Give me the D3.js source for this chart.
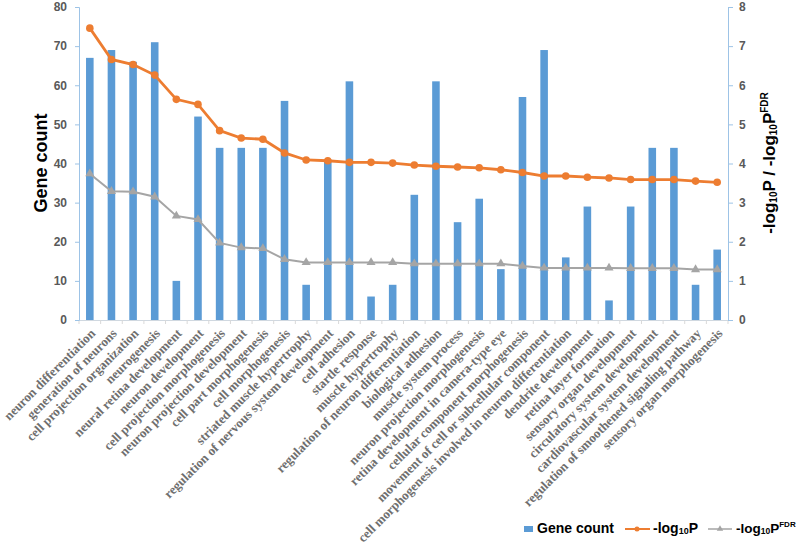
<!DOCTYPE html>
<html>
<head>
<meta charset="utf-8">
<script src="https://cdn.jsdelivr.net/npm/d3@7"></script>
<style>
  body { margin: 0; background: #fff; }
  svg { display: block; }
</style>
</head>
<body>
<svg id="chart" width="800" height="545"></svg>
<script>
const categories = [
  "neuron differentiation", "generation of neurons", "cell projection organization",
  "neurogenesis", "neural retina development", "neuron development",
  "cell projection morphogenesis", "neuron projection development", "cell part morphogenesis",
  "cell morphogenesis", "striated muscle hypertrophy", "regulation of nervous system development",
  "cell adhesion", "startle response", "muscle hypertrophy",
  "regulation of neuron differentiation", "biological adhesion", "muscle system process",
  "neuron projection morphogenesis", "retina development in camera-type eye",
  "cellular component morphogenesis", "movement of cell or subcellular component",
  "cell morphogenesis involved in neuron differentiation", "dendrite development",
  "retina layer formation", "sensory organ development", "circulatory system development",
  "cardiovascular system development", "regulation of smoothened signaling pathway",
  "sensory organ morphogenesis"
];
const geneCount = [67, 69, 66, 71, 10, 52, 44, 44, 44, 56, 9, 41, 61, 6, 9,
                   32, 61, 25, 31, 13, 57, 69, 16, 29, 5, 29, 44, 44, 9, 18];
const negLogP = [7.46, 6.66, 6.53, 6.26, 5.64, 5.51, 4.84, 4.65, 4.62, 4.27, 4.09, 4.07, 4.03, 4.03, 4.01,
                 3.96, 3.93, 3.91, 3.89, 3.84, 3.77, 3.68, 3.68, 3.65, 3.63, 3.59, 3.59, 3.59, 3.55, 3.52];
const negLogFDR = [3.74, 3.29, 3.28, 3.15, 2.66, 2.57, 1.97, 1.85, 1.83, 1.55, 1.47, 1.47, 1.47, 1.47, 1.47,
                   1.44, 1.44, 1.44, 1.44, 1.44, 1.38, 1.33, 1.33, 1.33, 1.33, 1.32, 1.32, 1.32, 1.29, 1.29];
const leftTicks = [0, 10, 20, 30, 40, 50, 60, 70, 80];
const rightTicks = [0, 1, 2, 3, 4, 5, 6, 7, 8];

const BLUE = "#5B9BD5", ORANGE = "#ED7D31", GRAY = "#A5A5A5";
const AXIS = "#9DC3E6", TICKTXT = "#595959";

const svg = d3.select("#chart");
const L = 79, R = 728, T = 7, B = 320;

const x = d3.scaleBand().domain(categories).range([L, R]).paddingInner(0.65).paddingOuter(0.325);
const xc = d => x(d) + x.bandwidth() / 2;
const yL = d3.scaleLinear().domain([0, 80]).range([B, T]);
const yR = d3.scaleLinear().domain([0, 8]).range([B, T]);

// bars
svg.append("g").selectAll("rect").data(categories).join("rect")
  .attr("x", d => x(d)).attr("width", x.bandwidth())
  .attr("y", (d, i) => yL(geneCount[i]))
  .attr("height", (d, i) => B - yL(geneCount[i]))
  .attr("fill", BLUE);

// x axis
const xAxis = svg.append("g").attr("transform", `translate(0,${B})`)
  .call(d3.axisBottom(x).tickSize(0).tickFormat(""));
xAxis.select(".domain").attr("stroke", "#D0D8E0").attr("stroke-width", 1);
const step = x.step();
svg.append("g").selectAll("line").data(d3.range(categories.length + 1)).join("line")
  .attr("x1", i => L + i * step).attr("x2", i => L + i * step)
  .attr("y1", B).attr("y2", B + 4)
  .attr("stroke", "#D9D9D9");

// x labels
svg.append("g").selectAll("text").data(categories).join("text")
  .attr("transform", d => `translate(${xc(d) + 3},${B + 11}) rotate(-45)`)
  .attr("text-anchor", "end").attr("dy", "0.35em")
  .attr("font-family", "'Liberation Serif', 'Times New Roman', serif")
  .attr("font-weight", "bold").attr("font-size", 13)
  .attr("fill", "#6e6e6e")
  .text(d => d);

// left axis
const la = svg.append("g").attr("transform", `translate(${L},0)`)
  .call(d3.axisLeft(yL).tickValues(leftTicks).tickSize(4).tickPadding(8));
la.select(".domain").attr("stroke", AXIS);
la.selectAll(".tick line").attr("stroke", AXIS);
la.selectAll(".tick text").attr("fill", TICKTXT).attr("font-family", "'Liberation Sans', Arial, sans-serif")
  .attr("font-weight", "bold").attr("font-size", 12);

// right axis
const ra = svg.append("g").attr("transform", `translate(${R},0)`)
  .call(d3.axisRight(yR).tickValues(rightTicks).tickSize(5).tickPadding(6));
ra.select(".domain").attr("stroke", AXIS);
ra.selectAll(".tick line").attr("stroke", AXIS);
ra.selectAll(".tick text").attr("fill", TICKTXT).attr("font-family", "'Liberation Sans', Arial, sans-serif")
  .attr("font-weight", "bold").attr("font-size", 12);

// lines
const line = arr => d3.line().x((d, i) => xc(categories[i])).y(d => yR(d))(arr);
svg.append("path").attr("d", line(negLogFDR)).attr("fill", "none")
  .attr("stroke", GRAY).attr("stroke-width", 2);
svg.append("g").selectAll("path").data(negLogFDR).join("path")
  .attr("d", d3.symbol(d3.symbolTriangle, 36)())
  .attr("transform", (d, i) => `translate(${xc(categories[i])},${yR(d)})`)
  .attr("fill", GRAY);

svg.append("path").attr("d", line(negLogP)).attr("fill", "none")
  .attr("stroke", ORANGE).attr("stroke-width", 2.8);
svg.append("g").selectAll("circle").data(negLogP).join("circle")
  .attr("cx", (d, i) => xc(categories[i])).attr("cy", d => yR(d))
  .attr("r", 3.8).attr("fill", ORANGE);

// axis titles
svg.append("text")
  .attr("transform", "translate(47,163) rotate(-90)")
  .attr("text-anchor", "middle")
  .attr("font-family", "'Liberation Sans', Arial, sans-serif")
  .attr("font-weight", "bold").attr("font-size", 18).attr("fill", "#000")
  .text("Gene count");

const rt = svg.append("text")
  .attr("transform", "translate(775,163) rotate(-90)")
  .attr("text-anchor", "middle")
  .attr("font-family", "'Liberation Sans', Arial, sans-serif")
  .attr("font-weight", "bold").attr("font-size", 17).attr("fill", "#000");
rt.append("tspan").text("-log");
rt.append("tspan").attr("font-size", 10).attr("dy", 2).text("10");
rt.append("tspan").attr("dy", -2).text("P  /  -log");
rt.append("tspan").attr("font-size", 10).attr("dy", 2).text("10");
rt.append("tspan").attr("dy", -2).text("P");
rt.append("tspan").attr("font-size", 10).attr("dy", -7).text("FDR");

// legend
const lg = svg.append("g").attr("font-family", "'Liberation Sans', Arial, sans-serif")
  .attr("font-weight", "bold").attr("font-size", 14).attr("fill", "#000");
lg.append("rect").attr("x", 524).attr("y", 526).attr("width", 9).attr("height", 6).attr("fill", BLUE);
lg.append("text").attr("x", 537).attr("y", 533).text("Gene count");
lg.append("line").attr("x1", 625).attr("x2", 650).attr("y1", 529).attr("y2", 529)
  .attr("stroke", ORANGE).attr("stroke-width", 2);
lg.append("circle").attr("cx", 637).attr("cy", 529).attr("r", 2.5).attr("fill", ORANGE);
const t1 = lg.append("text").attr("x", 653).attr("y", 533);
t1.append("tspan").text("-log");
t1.append("tspan").attr("font-size", 9).attr("dy", 1).text("10");
t1.append("tspan").attr("dy", -1).text("P");
lg.append("line").attr("x1", 708).attr("x2", 732).attr("y1", 529).attr("y2", 529)
  .attr("stroke", GRAY).attr("stroke-width", 1.5);
lg.append("path").attr("d", d3.symbol(d3.symbolTriangle, 18)())
  .attr("transform", "translate(720,529)").attr("fill", GRAY);
const t2 = lg.append("text").attr("x", 736).attr("y", 533).attr("font-size", 13.5);
t2.append("tspan").text("-log");
t2.append("tspan").attr("font-size", 8.5).attr("dy", 1).text("10");
t2.append("tspan").attr("dy", -1).text("P");
t2.append("tspan").attr("font-size", 8).attr("dy", -6).text("FDR");
</script>
</body>
</html>
